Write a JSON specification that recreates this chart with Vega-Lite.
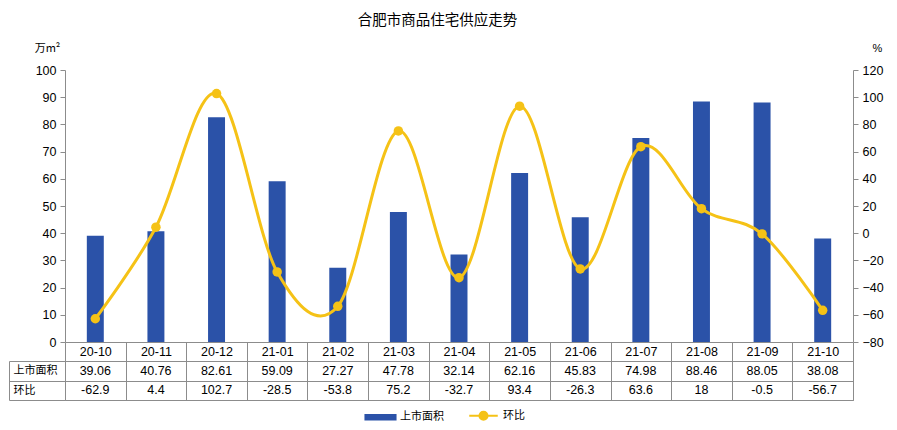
{
  "$schema": "https://vega.github.io/schema/vega-lite/v6.json",
  "background": "white",
  "padding": {"left": 8, "top": 12, "right": 10, "bottom": 6},
  "title": {"text": "合肥市商品住宅供应走势", "anchor": "middle", "font": "Noto Sans CJK SC", "fontSize": 14.5, "fontWeight": "normal", "color": "#000", "offset": 14, "dx": -8},
  "datasets": {
    "d": [
      {"month": "20-10", "上市面积": 39.06, "环比": -62.9},
      {"month": "20-11", "上市面积": 40.76, "环比": 4.4},
      {"month": "20-12", "上市面积": 82.61, "环比": 102.7},
      {"month": "21-01", "上市面积": 59.09, "环比": -28.5},
      {"month": "21-02", "上市面积": 27.27, "环比": -53.8},
      {"month": "21-03", "上市面积": 47.78, "环比": 75.2},
      {"month": "21-04", "上市面积": 32.14, "环比": -32.7},
      {"month": "21-05", "上市面积": 62.16, "环比": 93.4},
      {"month": "21-06", "上市面积": 45.83, "环比": -26.3},
      {"month": "21-07", "上市面积": 74.98, "环比": 63.6},
      {"month": "21-08", "上市面积": 88.46, "环比": 18},
      {"month": "21-09", "上市面积": 88.05, "环比": -0.5},
      {"month": "21-10", "上市面积": 38.08, "环比": -56.7}
    ]
  },
  "data": {"name": "d"},
  "bounds": "flush",
  "spacing": 19,
  "vconcat": [
    {
      "width": 788,
      "height": 272,
      "encoding": {
        "x": {
          "field": "month", "type": "ordinal", "sort": null,
          "scale": {"paddingInner": 0, "paddingOuter": 0},
          "axis": {"title": null, "labelAngle": 0, "tickBand": "extent", "tickSize": 19, "labelPadding": -9.5, "labelBaseline": "middle", "labelFontSize": 12.5}
        }
      },
      "layer": [
        {
          "mark": {"type": "bar", "width": {"band": 0.28}},
          "encoding": {
            "y": {
              "field": "上市面积", "type": "quantitative",
              "scale": {"domain": [0, 100], "nice": false},
              "axis": {"values": [0, 10, 20, 30, 40, 50, 60, 70, 80, 90, 100], "title": "万m²", "titleAngle": 0, "titleX": -18, "titleY": -22, "titleAlign": "center", "titleBaseline": "middle", "titleFont": "Noto Sans CJK SC", "titleFontSize": 11, "titleFontWeight": "normal", "titleColor": "#000", "tickSize": 5, "labelPadding": 4}
            },
            "color": {
              "datum": "上市面积", "type": "nominal",
              "scale": {"domain": ["上市面积", "环比"], "range": ["#2B52A8", "#F5C216"]},
              "legend": {
                "title": null, "orient": "none", "legendX": 310, "legendY": 340, "direction": "horizontal",
                "symbolSize": 900, "symbolType": "M-1.07,-0.22H1.07V0.22H-1.07Z",
                "labelFont": "Noto Sans CJK SC", "labelFontSize": 11, "labelColor": "#000", "labelOffset": 14, "columnPadding": 21,
                "encode": {
                  "symbols": {
                    "update": {
                      "shape": {"signal": "datum.value === '环比' ? 'M-0.95,0H0.95M0.27,0A0.27,0.27,0,1,1,-0.27,0A0.27,0.27,0,1,1,0.27,0' : 'M-1.07,-0.22H1.07V0.22H-1.07Z'"},
                      "fill": {"signal": "datum.value === '环比' ? '#F5C216' : '#2B52A8'"},
                      "stroke": {"signal": "datum.value === '环比' ? '#F5C216' : '#2B52A8'"},
                      "strokeWidth": {"signal": "datum.value === '环比' ? 2 : 0"},
                      "opacity": {"value": 1}
                    }
                  }
                }
              }
            }
          }
        },
        {
          "mark": {"type": "line", "interpolate": "cardinal", "strokeWidth": 3, "point": {"filled": true, "size": 90, "opacity": 1}},
          "encoding": {
            "y": {
              "field": "环比", "type": "quantitative",
              "scale": {"domain": [-80, 120], "nice": false},
              "axis": {"orient": "right", "values": [-80, -60, -40, -20, 0, 20, 40, 60, 80, 100, 120], "title": "%", "titleAngle": 0, "titleX": 24, "titleY": -22, "titleAlign": "center", "titleBaseline": "middle", "titleFont": "Liberation Sans", "titleFontSize": 11, "titleFontWeight": "normal", "titleColor": "#000", "tickSize": 5, "labelPadding": 4}
            },
            "color": {"datum": "环比", "type": "nominal"}
          }
        }
      ],
      "resolve": {"scale": {"y": "independent"}}
    },
    {
      "width": 788,
      "height": 39,
      "view": {"stroke": "#8c8c8c"},
      "transform": [{"fold": ["上市面积", "环比"], "as": ["row", "val"]}],
      "mark": {"type": "text", "font": "Liberation Sans", "fontSize": 12.5, "color": "#000", "baseline": "middle"},
      "encoding": {
        "x": {
          "field": "month", "type": "ordinal", "sort": null,
          "scale": {"paddingInner": 0, "paddingOuter": 0},
          "axis": {"title": null, "labels": false, "ticks": false, "domain": false, "grid": true, "tickBand": "extent", "gridColor": "#8c8c8c", "gridOpacity": 1}
        },
        "y": {
          "field": "row", "type": "nominal", "sort": ["上市面积", "环比"],
          "scale": {"paddingInner": 0, "paddingOuter": 0},
          "axis": {"title": null, "offset": 56, "domain": true, "ticks": true, "tickSize": -56, "tickBand": "extent", "labelAlign": "left", "labelPadding": 52, "labelFont": "Noto Sans CJK SC", "labelFontSize": 11, "grid": true, "gridColor": "#8c8c8c", "gridOpacity": 1}
        },
        "text": {"field": "val", "type": "nominal"}
      }
    }
  ],
  "config": {
    "view": {"stroke": null},
    "axis": {"labelFont": "Liberation Sans", "labelFontSize": 12.5, "labelColor": "#000", "domainColor": "#8c8c8c", "tickColor": "#8c8c8c", "grid": false}
  }
}
